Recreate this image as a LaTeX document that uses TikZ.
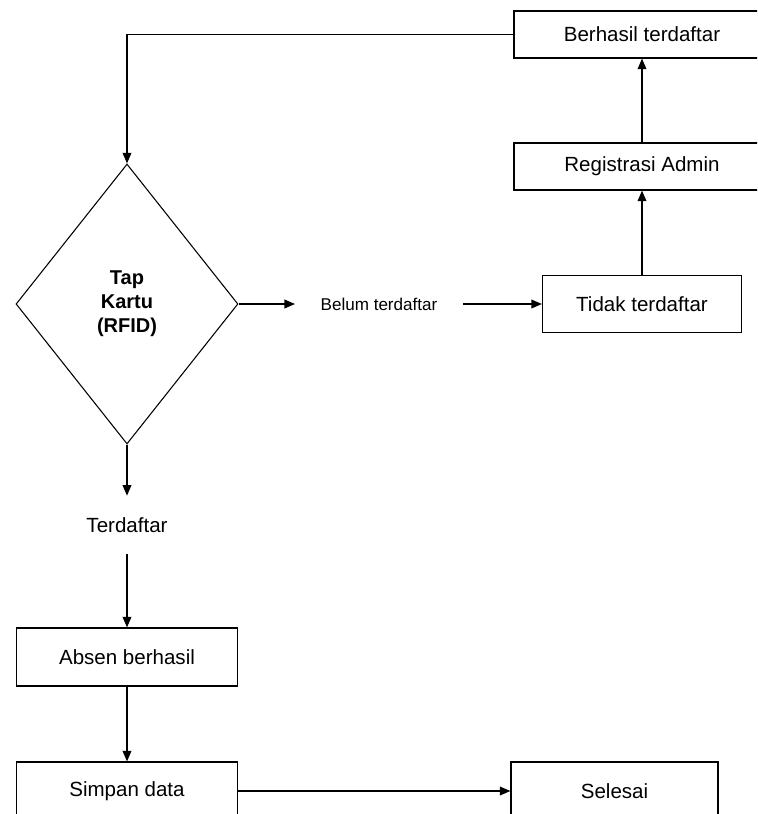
\documentclass[tikz,border=0pt]{standalone}
\usepackage{fontspec}
\setmainfont{Liberation Sans}
\usepackage{tikz}
\usetikzlibrary{arrows.meta,positioning,shapes.geometric}
\tikzset{
  procbox/.style={draw=black, fill=white, rectangle, inner sep=0pt, line width=0.8pt,
    font=\fontsize{15.4}{18}\selectfont, minimum height=43.5pt},
  decision/.style={draw=black, diamond, inner sep=0pt, line width=0.8pt, align=center,
    minimum width=166.5pt, minimum height=210pt,
    font=\fontsize{15}{18}\selectfont\bfseries},
  flowlabel/.style={inner ysep=0pt, font=\fontsize{15.4}{18}\selectfont},
  flow/.style={-{Triangle[length=8pt,width=6.5pt]}, draw=black, line width=1.2pt},
}
\begin{document}
\begin{tikzpicture}[x=0.75pt, y=-0.75pt]
  \clip (0,0) rectangle (757,814);

  \node[procbox, minimum width=192pt, minimum height=35.25pt] (berhasil) at (642,34.5) {Berhasil terdaftar};
  \node[procbox, minimum width=192pt, minimum height=35.25pt] (registrasi) at (642,166.5) {Registrasi Admin};
  \node[procbox, minimum width=149.25pt, minimum height=42.75pt] (tidak) at (642,304) {Tidak terdaftar};

  \node[decision] (tap) at (127,304) {Tap\\Kartu\\(RFID)};
  \node[flowlabel, inner xsep=19pt, font=\fontsize{12.8}{15}\selectfont] (belum) at (379,304) {Belum terdaftar};
  \node[flowlabel, minimum height=43.5pt] (terdaftar) at (127,525) {Terdaftar};

  \node[procbox, minimum width=165.75pt] (absen) at (127,657) {Absen berhasil};
  \node[procbox, minimum width=165.75pt] (simpan) at (127,791) {Simpan data};
  \node[procbox, minimum width=155.25pt] (selesai) at (614.5,791) {Selesai};

  % alur utama
  \draw[flow] (berhasil.west) -| (tap.north);
  \draw[flow] (tap.east) -- (belum.west);
  \draw[flow] (belum.east) -- (tidak.west);
  \draw[flow] (tidak.north) -- (registrasi.south);
  \draw[flow] (registrasi.north) -- (berhasil.south);
  \draw[flow] (tap.south) -- (terdaftar.north);
  \draw[flow] (terdaftar.south) -- (absen.north);
  \draw[flow] (absen.south) -- (simpan.north);
  \draw[flow] (simpan.east) -- (selesai.west);
\end{tikzpicture}
\end{document}
